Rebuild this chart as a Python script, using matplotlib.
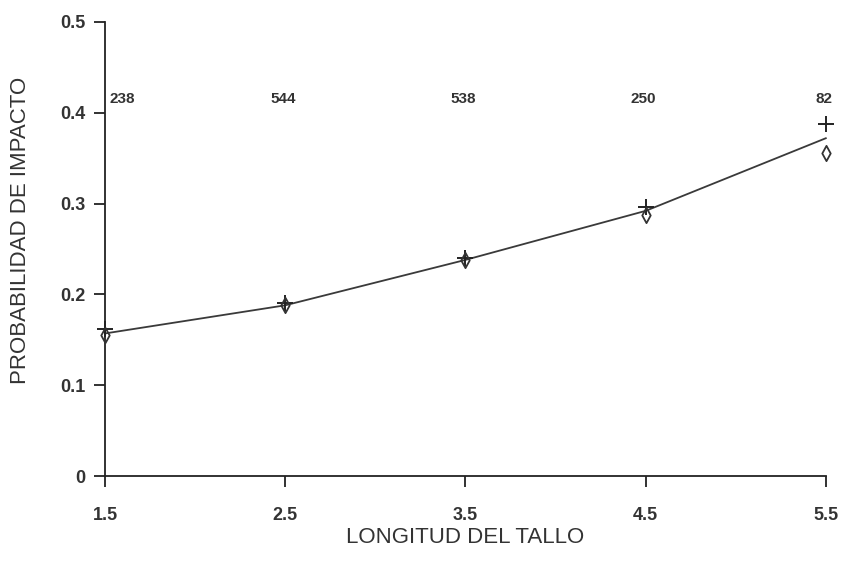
import matplotlib
matplotlib.use("Agg")
import matplotlib.pyplot as plt
from matplotlib.path import Path

plt.rcParams['font.family'] = ['Liberation Sans', 'DejaVu Sans']

longitud = [1.5, 2.5, 3.5, 4.5, 5.5]
observada = [0.162, 0.190, 0.240, 0.296, 0.388]
predicha = [0.155, 0.188, 0.238, 0.287, 0.356]
ajuste = [0.157, 0.188, 0.238, 0.292, 0.372]
conteos = ["238", "544", "538", "250", "82"]
yticks = [0, 0.1, 0.2, 0.3, 0.4, 0.5]
yticklabels = ["0", "0.1", "0.2", "0.3", "0.4", "0.5"]
xticklabels = ["1.5", "2.5", "3.5", "4.5", "5.5"]

txt = '#333333'
fig = plt.figure(figsize=(8.43, 5.64), dpi=100)
ax = fig.add_axes([0.1246, 0.156, 0.855, 0.805])

diamante = Path([(0, 1), (0.55, 0), (0, -1), (-0.55, 0), (0, 1)],
                [Path.MOVETO, Path.LINETO, Path.LINETO, Path.LINETO, Path.CLOSEPOLY])

ax.plot(longitud, ajuste, color='#3a3a3a', lw=1.3, clip_on=False, zorder=2)
ax.plot(longitud, observada, linestyle='none', marker='+', markersize=11,
        markeredgewidth=1.4, color='#222222', clip_on=False, zorder=3)
ax.plot(longitud, predicha, linestyle='none', marker=diamante, markersize=11,
        markerfacecolor='none', markeredgewidth=1.3, markeredgecolor='#333333',
        clip_on=False, zorder=3)

for i, (x, c) in enumerate(zip(longitud, conteos)):
    if i == 0:
        ax.annotate(c, (x, 0.415), xytext=(3, 0), textcoords='offset points',
                    ha='left', va='center', fontsize=11, fontweight='bold', color=txt)
    else:
        ax.annotate(c, (x, 0.415), xytext=(-1.5, 0), textcoords='offset points',
                    ha='center', va='center', fontsize=11, fontweight='bold', color=txt)

ax.set_xlim(1.5, 5.5)
ax.set_ylim(0, 0.5)
ax.set_xticks(longitud)
ax.set_xticklabels(xticklabels)
ax.set_yticks(yticks)
ax.set_yticklabels(yticklabels)
ax.spines['top'].set_visible(False)
ax.spines['right'].set_visible(False)
for s in ['left', 'bottom']:
    ax.spines[s].set_color('#222222')
    ax.spines[s].set_linewidth(1.3)
ax.tick_params(axis='both', direction='out', length=8, width=1.3,
               color='#222222', labelsize=13, labelcolor=txt)
for lab in ax.get_xticklabels() + ax.get_yticklabels():
    lab.set_fontweight('bold')
ax.tick_params(axis='x', pad=14)
ax.tick_params(axis='y', pad=6)

ax.set_xlabel('LONGITUD DEL TALLO', fontsize=16, color=txt)
ax.set_ylabel('PROBABILIDAD DE IMPACTO', fontsize=16, color=txt)
ax.xaxis.set_label_coords(0.5, -0.112)
ax.yaxis.set_label_coords(-0.103, 0.54)

fig.savefig('out.png', dpi=100)
